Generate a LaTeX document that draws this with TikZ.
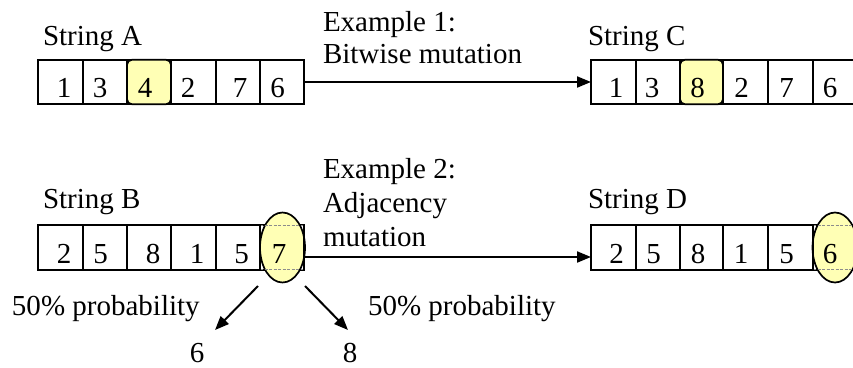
\documentclass[tikz,border=0pt]{standalone}
\usepackage{fontspec}
\setmainfont{Liberation Serif}
\usetikzlibrary{arrows.meta,shapes.geometric}
\definecolor{hlyellow}{HTML}{FFFFB5}
\begin{document}
\begin{tikzpicture}[x=1pt,y=-1pt,
  every node/.style={font=\fontsize{29}{31}\selectfont, inner sep=0pt, outer sep=0pt},
  cell/.style={draw, line width=1.7pt, minimum height=44.5pt},
  hlcell/.style={cell, fill=hlyellow, rounded corners=5pt},
  dig/.style={anchor=base},
  lbl/.style={anchor=base west},
  oval/.style={ellipse, draw, line width=1.7pt, fill=hlyellow, minimum width=45pt, minimum height=70pt},
  arr/.style={line width=2pt, -{Triangle[length=14pt,width=11pt]}},
  thru/.style={draw=black!45, line width=1.2pt, dash pattern=on 3pt off 1.5pt}
]
\useasboundingbox (0,0) rectangle (853,367);

% --- String A / String C (bitwise mutation) ---
\foreach \n/\l/\r in {1/38/83,2/83/127,3/127/171,4/171/216,5/216/260,6/260/304}
  \node[cell, minimum width={\r-\l}] (a\n) at ({(\l+\r)/2},82) {};
\node[hlcell, minimum width=44] (a3h) at (149,82) {};
\foreach \n/\l/\r in {1/591/636,2/636/680,3/680/723,4/723/768,5/768/813,6/813/857}
  \node[cell, minimum width={\r-\l}] (c\n) at ({(\l+\r)/2},82) {};
\node[hlcell, minimum width=43] (c3h) at (701.5,82) {};

\node[lbl] (strA) at (43,45) {String A};
\node[lbl] (strC) at (588,45) {String C};

\foreach \n/\x/\t in {1/64/1,2/100/3,3/145/4,4/188/2,5/240/7,6/277.5/6}
  \node[dig] (da\n) at (\x,97) {\t};
\foreach \n/\x/\t in {1/616/1,2/652/3,3/697.5/8,4/741.5/2,5/786.5/7,6/830/6}
  \node[dig] (dc\n) at (\x,97) {\t};

\node[lbl] (ex1a) at (323,31) {Example 1:};
\node[lbl] (ex1b) at (323,63) {Bitwise mutation};
\draw[arr] (a6.east) -- (c1.west);

% --- String B / String D (adjacency mutation) ---
\foreach \n/\l/\r in {1/38/83,2/83/127,3/127/171,4/171/216,5/216/260,6/260/304}
  \node[cell, minimum width={\r-\l}] (b\n) at ({(\l+\r)/2},247.5) {};
\foreach \n/\l/\r in {1/591/636,2/636/680,3/680/723,4/723/768,5/768/813,6/813/857}
  \node[cell, minimum width={\r-\l}] (d\n) at ({(\l+\r)/2},247.5) {};

\node[oval] (ovB) at (282.5,247.5) {};
\draw[thru] (b6.north west) -- (b6.north east);
\draw[thru] (b6.south west) -- (b6.south east);
\draw[line width=1.7pt] (b6.north west) -- (b6.south west);
\draw[line width=1.7pt] (b6.north east) -- (b6.south east);

\node[oval] (ovD) at (835,247.5) {};
\draw[thru] (d6.north west) -- (d6.north east);
\draw[thru] (d6.south west) -- (d6.south east);
\draw[line width=1.7pt] (d6.north west) -- (d6.south west);

\node[lbl] (strB) at (43,208) {String B};
\node[lbl] (strD) at (588,208) {String D};

\foreach \n/\x/\t in {1/64/2,2/100.5/5,3/153/8,4/197/1,5/241.5/5,6/279/7}
  \node[dig] (db\n) at (\x,263) {\t};
\foreach \n/\x/\t in {1/616.5/2,2/653.5/5,3/698/8,4/741/1,5/786.5/5,6/830/6}
  \node[dig] (dd\n) at (\x,263) {\t};

\node[lbl] (ex2a) at (323,178) {Example 2:};
\node[lbl] (ex2b) at (323,212) {Adjacency};
\node[lbl] (ex2c) at (323,246) {mutation};

\coordinate (bOut) at (304,257);
\coordinate (dIn) at (591,257);
\draw[arr] (bOut) -- (dIn);

% --- the two possible neighbours of 7 ---
\node[lbl] (pL) at (12,315) {50\% probability};
\node[lbl] (pR) at (368,315) {50\% probability};
\node[dig] (six) at (197,362) {6};
\node[dig] (eight) at (350,362) {8};
\coordinate (fromL) at (258,286);
\coordinate (fromR) at (305,286);
\coordinate (tipL) at (215,330);
\coordinate (tipR) at (348,330);
\draw[arr] (fromL) -- (tipL);
\draw[arr] (fromR) -- (tipR);
\end{tikzpicture}
\end{document}
